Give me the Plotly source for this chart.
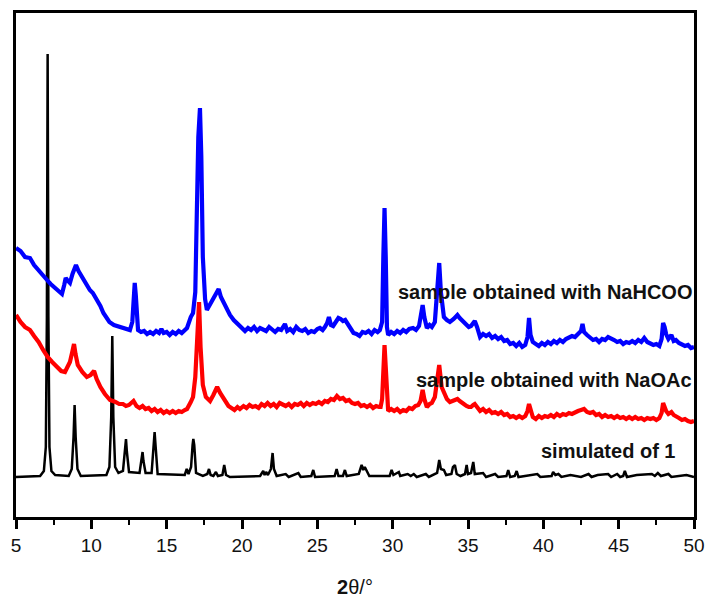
import plotly.graph_objects as go

# Simulated powder pattern of compound 1 (2-theta in degrees, intensity in a.u.)
sim_x = [5.0, 6.6, 6.85, 6.98, 7.05, 7.10, 7.15, 7.22, 7.35, 7.6, 8.5, 8.7, 8.82, 8.89, 8.96, 9.08, 9.3,
         11.0, 11.2, 11.32, 11.39, 11.46, 11.58, 11.8, 12.1, 12.24, 12.30, 12.36, 12.5, 13.2, 13.34, 13.40,
         13.46, 13.6, 14.0, 14.13, 14.20, 14.27, 14.4, 16.2, 16.33, 16.45, 16.62, 16.72, 16.77, 16.83, 16.95,
         17.4, 17.7, 17.81, 17.92, 18.1, 18.27, 18.4, 18.7, 18.82, 18.94, 19.2, 21.2, 21.41, 21.5, 21.6, 21.72,
         21.92, 22.03, 22.12, 22.3, 22.9, 23.1, 23.74, 23.9, 24.6, 24.73, 24.85, 26.15, 26.28, 26.4, 26.7,
         26.83, 26.95, 27.75, 27.94, 28.05, 28.15, 28.3, 28.45, 29.8, 29.93, 30.05, 30.41, 30.5, 31.0, 31.2,
         31.4, 31.6, 32.2, 32.4, 32.95, 33.09, 33.2, 33.4, 33.55, 33.9, 34.0, 34.13, 34.25, 34.5, 34.8, 34.91,
         35.0, 35.2, 35.35, 35.45, 36.0, 36.2, 36.8, 37.0, 37.55, 37.67, 37.8, 38.1, 38.23, 38.35, 39.6, 39.8,
         40.55, 40.65, 40.8, 41.0, 41.2, 41.8, 42.5, 43.0, 43.2, 43.6, 44.3, 44.5, 44.9, 45.1, 45.3, 45.41,
         45.55, 46.2, 47.2, 47.4, 47.6, 47.8, 48.3, 48.5, 49.5, 50.0]
sim_y = [40, 41, 46, 70, 200, 463, 200, 70, 46, 42, 41, 48, 80, 112, 80, 48, 41,
         42, 50, 100, 181, 100, 50, 44, 46, 65, 78, 65, 45, 44, 56, 65,
         56, 44, 44, 70, 85, 70, 43, 42, 48, 43, 50, 72, 78, 72, 44,
         41, 43, 48, 42, 41, 45, 41, 42, 52, 42, 40, 41, 46, 42, 45, 42,
         48, 64, 48, 41, 43, 40, 44, 40, 41, 47, 40, 41, 48, 41, 41,
         47, 41, 43, 52, 47, 50, 45, 41, 41, 47, 42, 45, 41, 43, 41,
         43, 40, 43, 40, 44, 57, 48, 47, 42, 43, 50, 52, 43, 41, 43, 52,
         43, 44, 55, 43, 44, 40, 43, 40, 41, 47, 40, 41, 46, 40, 43, 40,
         41, 45, 42, 43, 40, 42, 40, 43, 40, 42, 43, 40, 43, 40, 41, 46,
         40, 42, 43, 41, 44, 41, 43, 40, 42, 40]

# Sample obtained with NaHCOO
hcoo_x = [5.0, 5.3, 5.6, 5.93, 6.2, 6.46, 6.8, 7.06, 7.3, 7.6, 7.85, 8.05, 8.2, 8.3, 8.45, 8.58, 8.75, 8.98,
          9.15, 9.38, 9.6, 9.9, 10.1, 10.4, 10.6, 10.8, 11.0, 11.2, 11.5, 11.9, 12.2, 12.56, 12.72, 12.82,
          12.88, 12.95, 13.05,
          13.1, 13.3, 13.5, 13.7, 13.9, 14.1, 14.3, 14.5, 14.65, 14.8, 15.0, 15.2, 15.4, 15.6, 15.8, 16.0,
          16.2, 16.35,
          16.6, 16.75, 16.9, 17.0, 17.1, 17.21, 17.3, 17.4, 17.55, 17.67, 17.85, 18.0, 18.3, 18.45, 18.6,
          18.86, 19.2, 19.45,
          19.66, 19.85, 20.0, 20.2, 20.4, 20.6, 20.8, 21.0, 21.2, 21.4, 21.6, 21.8, 22.0, 22.2, 22.4, 22.6,
          22.85, 23.0, 23.2, 23.4, 23.6, 23.8, 24.0, 24.2, 24.4, 24.6, 24.8, 25.0, 25.17, 25.35, 25.5, 25.65,
          25.77, 25.9, 26.05, 26.2, 26.4, 26.55, 26.7, 26.85, 27.0, 27.2, 27.4, 27.6, 27.8, 28.0, 28.2, 28.4,
          28.6, 28.8, 29.0, 29.15,
          29.3, 29.38, 29.46, 29.54, 29.62, 29.7, 29.9, 30.1, 30.3, 30.5, 30.7, 30.9, 31.1, 31.35, 31.55,
          31.75, 31.9, 31.99, 32.1, 32.27, 32.45, 32.6, 32.8, 32.95, 33.09, 33.2, 33.4, 33.6, 33.8, 34.05,
          34.3, 34.45, 34.6, 34.75, 34.9, 35.05, 35.2, 35.35, 35.45, 35.6,
          35.8, 36.0, 36.2, 36.4, 36.6, 36.8, 37.0, 37.2, 37.4, 37.6, 37.8, 38.0, 38.2, 38.4, 38.6, 38.8,
          38.95, 39.05, 39.15, 39.3, 39.5, 39.7, 39.9, 40.1, 40.3, 40.5, 40.7, 40.9, 41.1, 41.3, 41.5, 41.7,
          41.9, 42.1, 42.3, 42.5, 42.6, 42.7, 42.9, 43.1, 43.3, 43.5, 43.7, 43.9, 44.1, 44.3, 44.5, 44.7,
          44.9, 45.1, 45.3, 45.5, 45.7, 45.9, 46.1, 46.3, 46.5, 46.7, 46.9, 47.1, 47.3, 47.5, 47.7, 47.85,
          47.95, 48.05, 48.15, 48.3, 48.5, 48.65, 48.8, 49.0, 49.2, 49.4, 49.6, 49.8, 50.0]
hcoo_y = [269, 266, 260, 259, 252, 247, 241, 237, 233, 229, 226, 223, 232, 239, 236, 234, 243, 252,
          246, 240, 234, 227, 224, 217, 211, 204, 199, 195, 192, 190, 188, 187, 195, 225,
          234, 222, 192,
          187, 185, 186, 183, 185, 183, 186, 184, 188, 184, 185, 182, 185, 183, 186, 184,
          187, 189,
          200, 204, 225, 300, 380, 409, 360, 260, 218, 207, 212, 215, 225, 228, 220,
          212, 202, 197,
          194, 191, 190, 186, 189, 187, 190, 186, 189, 187, 186, 190, 188, 185, 188, 187,
          193, 186, 188, 185, 190, 187, 186, 188, 184, 186, 185, 188, 189, 187, 190, 194,
          200, 192, 191, 195, 199, 198, 196, 197, 193, 188, 184, 183, 181, 185, 184, 186,
          183, 187, 185, 187,
          195, 260, 309, 260, 190, 182, 185, 183, 186, 184, 187, 185, 188, 189, 187,
          191, 205, 212, 200, 189, 192, 190, 195, 220, 254, 225, 200, 197, 195, 198,
          202, 199, 197, 194, 192, 190, 191, 194, 196, 190,
          180, 183, 181, 183, 179, 181, 178, 180, 176, 177, 173, 174, 171, 174, 170, 172,
          180, 199, 182, 175, 173, 171, 174, 172, 175, 173, 176, 174, 177, 175, 178, 179,
          181, 180, 183, 186, 193, 185, 182, 179, 177, 178, 175, 178, 177, 180, 179, 177,
          175, 176, 173, 175, 174, 176, 174, 177, 175, 179, 175, 174, 172, 173, 171, 178,
          194, 190, 183, 178, 182, 176, 177, 174, 173, 171, 172, 169, 170]

# Sample obtained with NaOAc
oac_x = [5.0, 5.3, 5.6, 5.93, 6.2, 6.5, 6.8, 7.1, 7.4, 7.7, 8.0, 8.25, 8.45, 8.58, 8.75, 8.85, 8.95, 9.1,
         9.4, 9.7, 9.95, 10.18, 10.35, 10.6, 10.9, 11.24, 11.6, 11.85, 12.1, 12.3, 12.5, 12.7, 12.8,
         13.0, 13.2, 13.4, 13.6, 13.8, 14.0, 14.2, 14.4, 14.6, 14.8, 15.0, 15.2, 15.4, 15.6, 15.8, 16.0,
         16.2, 16.35,
         16.6, 16.75, 16.9, 17.0, 17.08, 17.15, 17.25, 17.4, 17.6, 17.88, 18.1, 18.35, 18.55, 18.9, 19.1,
         19.3, 19.5, 19.7, 19.86, 20.1, 20.3, 20.5, 20.7, 20.9, 21.1, 21.3, 21.5, 21.7, 21.9, 22.1, 22.3,
         22.5, 22.7, 22.9, 23.1, 23.3, 23.5, 23.7, 23.9, 24.1, 24.3, 24.5, 24.7, 24.9, 25.1, 25.3, 25.5,
         25.7, 25.9, 26.1, 26.3, 26.5, 26.7, 26.9, 27.1, 27.3, 27.5, 27.7, 27.9, 28.1, 28.3, 28.5, 28.7,
         28.9, 29.1, 29.2,
         29.3, 29.38, 29.46, 29.54, 29.62, 29.7, 29.9, 30.1, 30.3, 30.5, 30.7, 30.9, 31.1, 31.3, 31.5,
         31.7, 31.85, 31.99, 32.1, 32.27, 32.45, 32.6, 32.8, 32.95, 33.09, 33.25, 33.4, 33.6, 33.8, 34.05,
         34.3, 34.45, 34.6, 34.75, 34.9, 35.05, 35.2, 35.35, 35.45, 35.6,
         35.8, 36.0, 36.2, 36.4, 36.6, 36.8, 37.0, 37.2, 37.4, 37.6, 37.8, 38.0, 38.2, 38.4, 38.6, 38.8,
         38.95, 39.05, 39.15, 39.3, 39.5, 39.7, 39.9, 40.1, 40.3, 40.5, 40.7, 40.9, 41.1, 41.3, 41.5, 41.7,
         41.9, 42.1, 42.3, 42.5, 42.7, 42.9, 43.1, 43.3, 43.5, 43.7, 43.9, 44.1, 44.3, 44.5, 44.7, 44.9,
         45.1, 45.3, 45.5, 45.7, 45.9, 46.1, 46.3, 46.5, 46.7, 46.9, 47.1, 47.3, 47.5, 47.7, 47.85, 47.95,
         48.05, 48.15, 48.3, 48.5, 48.65, 48.8, 49.0, 49.2, 49.4, 49.6, 49.8, 50.0]
oac_y = [202, 195, 190, 187, 181, 175, 167, 160, 155, 150, 146, 145, 150, 155, 166, 173, 163, 152,
         145, 140, 142, 146, 138, 130, 123, 117, 115, 113, 113, 111, 112, 114, 116,
         111, 109, 111, 108, 109, 106, 108, 105, 107, 104, 106, 104, 106, 104, 106, 105,
         107, 108,
         115, 120, 140, 180, 215, 215, 170, 132, 120, 116, 122, 130, 124, 115, 111,
         109, 107, 110, 108, 111, 109, 112, 110, 111, 109, 113, 111, 114, 111, 113, 110,
         114, 112, 111, 113, 110, 113, 112, 114, 111, 114, 112, 114, 113, 115, 113, 116,
         115, 118, 117, 121, 118, 119, 116, 117, 114, 113, 114, 111, 112, 110, 112, 109,
         111, 110, 110,
         118, 150, 172, 150, 115, 106, 108, 106, 108, 105, 107, 106, 109, 108, 111,
         112, 116, 127, 118, 110, 113, 114, 120, 138, 152, 130, 124, 118, 115, 116,
         118, 116, 114, 112, 111, 110, 110, 112, 113, 110,
         106, 108, 105, 107, 104, 105, 103, 105, 102, 103, 100, 101, 99, 101, 99, 101,
         106, 113, 106, 100, 98, 101, 99, 101, 100, 102, 100, 103, 101, 103, 102, 104,
         103, 105, 106, 107, 108, 105, 104, 105, 102, 103, 100, 102, 100, 101, 99, 101,
         99, 100, 98, 100, 98, 100, 98, 99, 97, 99, 98, 99, 97, 99, 104, 114,
         110, 106, 103, 105, 102, 101, 99, 97, 98, 96, 95, 96]

series_names = ["simulated of 1", "sample obtained with NaOAc", "sample obtained with NaHCOO"]
x_ticks = [5, 10, 15, 20, 25, 30, 35, 40, 45, 50]

fig = go.Figure()
fig.add_trace(go.Scatter(x=sim_x, y=sim_y, mode="lines", name=series_names[0],
                         line=dict(color="#000000", width=2.5)))
fig.add_trace(go.Scatter(x=oac_x, y=oac_y, mode="lines", name=series_names[1],
                         line=dict(color="#ff0000", width=4.2)))
fig.add_trace(go.Scatter(x=hcoo_x, y=hcoo_y, mode="lines", name=series_names[2],
                         line=dict(color="#0000ff", width=4.2)))

label_font = dict(family="Liberation Sans, Arial, sans-serif", size=20, color="#111111")
for text, xr, yv in [(series_names[2], 50, 225), (series_names[1], 50, 137), (series_names[0], 48.9, 66)]:
    fig.add_annotation(x=xr, y=yv, xref="x", yref="y", text="<b>%s</b>" % text, showarrow=False,
                       xanchor="right", yanchor="middle", font=label_font)

fig.update_layout(
    width=711, height=598,
    margin=dict(l=16, r=17, t=13, b=81, autoexpand=False),
    paper_bgcolor="white", plot_bgcolor="white",
    showlegend=False,
    font=dict(family="Liberation Sans, Arial, sans-serif", color="#111111"),
    xaxis=dict(
        range=[5, 50], tickvals=x_ticks, ticktext=[str(t) for t in x_ticks],
        showgrid=False, zeroline=False, automargin=False,
        showline=True, linecolor="black", linewidth=3, mirror=True,
        ticks="outside", ticklen=9, tickwidth=2.5, tickcolor="black",
        tickfont=dict(size=19, color="#111111"),
        minor=dict(ticks="outside", dtick=2.5, tick0=5, ticklen=5, tickwidth=2, tickcolor="black", showgrid=False),
        title=dict(text="<b>2</b>θ/°", font=dict(size=20, color="#111111"), standoff=26),
    ),
    yaxis=dict(
        range=[0, 504], showticklabels=False, ticks="", automargin=False,
        showgrid=False, zeroline=False,
        showline=True, linecolor="black", linewidth=3, mirror=True,
    ),
)

fig.write_html("out.html")
